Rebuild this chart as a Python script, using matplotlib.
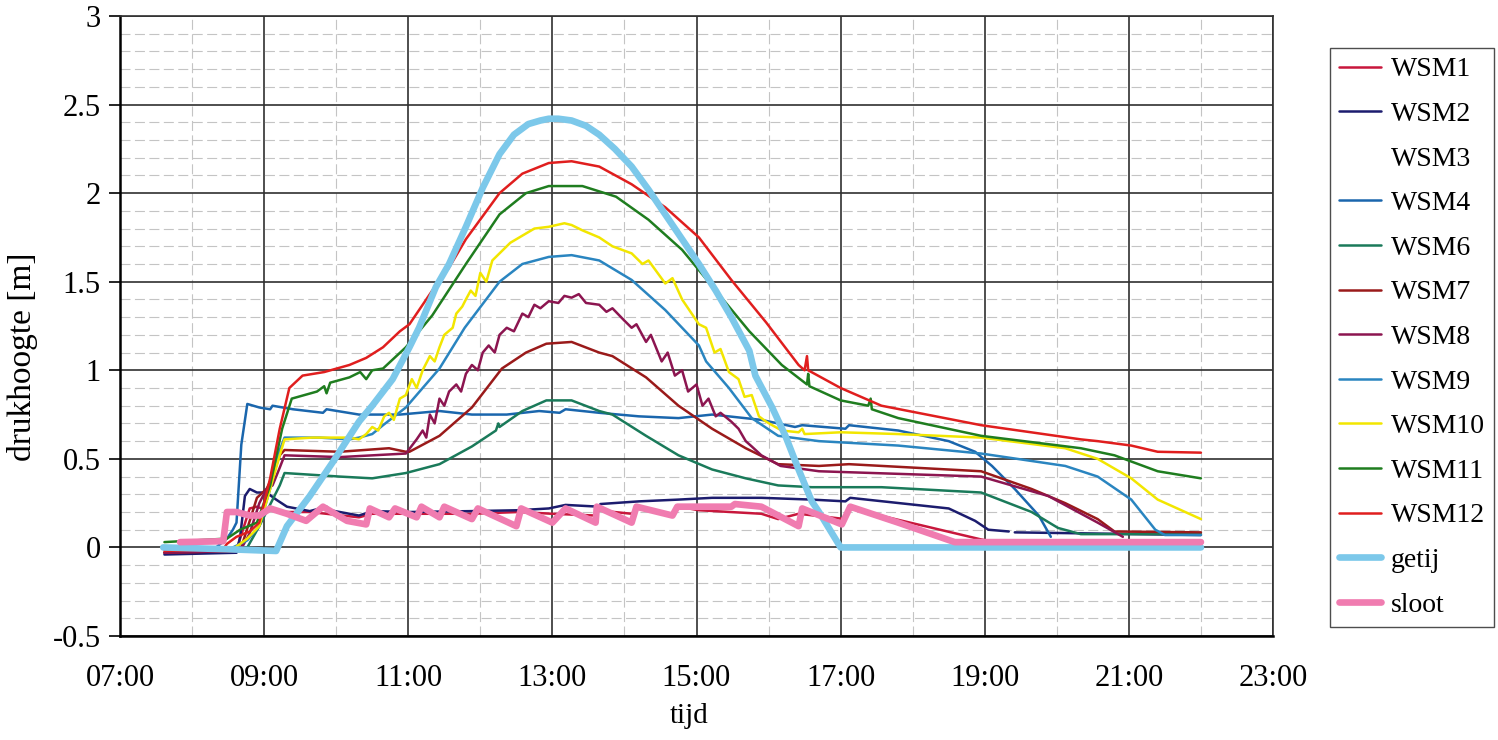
import matplotlib
matplotlib.use("Agg")
import matplotlib.pyplot as plt
import numpy as np

# ---------------- data ----------------
series_names = ["WSM1", "WSM2", "WSM3", "WSM4", "WSM6", "WSM7", "WSM8",
                "WSM9", "WSM10", "WSM11", "WSM12", "getij", "sloot"]

wsm1_t = ["07:37", "08:37", "08:40", "08:48", "08:54", "09:02", "09:19", "09:38", "10:19", "10:30",
          "11:01", "11:53", "12:32", "13:00", "13:36", "13:37", "14:06", "14:10", "14:40", "14:45",
          "15:02", "15:54", "16:08", "16:25", "17:04", "17:08", "18:57", "19:10"]
wsm1_v = [-0.03, -0.02, 0.05, 0.22, 0.23, 0.21, 0.20, 0.20, 0.17, 0.19,
          0.19, 0.19, 0.20, 0.19, 0.18, 0.21, 0.19, 0.22, 0.19, 0.23,
          0.21, 0.19, 0.16, 0.19, 0.16, 0.22, 0.045, 0.03]

wsm2_t = ["07:37", "08:37", "08:40", "08:44", "08:48", "08:54", "09:02", "09:10", "09:19", "09:38",
          "09:52", "09:55", "10:19", "10:30", "11:01", "11:53", "12:32", "12:57", "13:11", "13:39",
          "13:40", "14:12", "14:45", "15:13", "15:54", "16:36", "17:04", "17:08", "18:30", "18:52",
          "19:03", "19:20", "19:22", "19:25", "22:00"]
wsm2_v = [-0.04, -0.03, 0.06, 0.29, 0.33, 0.31, 0.31, 0.27, 0.23, 0.205,
          0.23, 0.21, 0.18, 0.205, 0.20, 0.205, 0.21, 0.22, 0.24, 0.23,
          0.245, 0.26, 0.27, 0.28, 0.28, 0.27, 0.26, 0.28, 0.22, 0.15,
          0.10, 0.09, np.nan, 0.085, 0.07]

wsm3_t = []
wsm3_v = []

wsm4_t = ["07:37", "08:20", "08:29", "08:34", "08:37", "08:41", "08:46", "08:56", "09:05", "09:07",
          "09:24", "09:49", "09:52", "10:19", "10:53", "11:26", "11:53", "12:22", "12:49", "13:06",
          "13:11", "13:39", "14:12", "14:45", "15:13", "15:54", "16:22", "16:28", "17:04", "17:07",
          "17:48", "18:30", "18:52", "19:06", "19:25", "19:45", "19:55"]
wsm4_v = [0.0, 0.0, 0.05, 0.10, 0.14, 0.58, 0.81, 0.79, 0.78, 0.80,
          0.78, 0.76, 0.78, 0.75, 0.75, 0.77, 0.75, 0.75, 0.77, 0.76,
          0.78, 0.76, 0.74, 0.73, 0.75, 0.72, 0.68, 0.69, 0.67, 0.69,
          0.66, 0.60, 0.54, 0.46, 0.33, 0.18, 0.06]

wsm6_t = ["07:37", "08:46", "08:56", "09:13", "09:17", "10:03", "10:30", "10:58", "11:26", "11:53",
          "12:13", "12:15", "12:16", "12:35", "12:55", "13:16", "13:39", "13:50", "14:18", "14:45",
          "15:13", "15:41", "16:08", "16:36", "17:34", "18:57", "19:39", "20:01", "20:20", "22:00"]
wsm6_v = [0.0, 0.0, 0.12, 0.35, 0.42, 0.40, 0.39, 0.42, 0.47, 0.57,
          0.66, 0.70, 0.68, 0.77, 0.83, 0.83, 0.77, 0.75, 0.63, 0.52,
          0.44, 0.39, 0.35, 0.34, 0.34, 0.31, 0.20, 0.11, 0.075, 0.075]

wsm7_t = ["07:37", "08:40", "08:48", "08:54", "09:02", "09:07", "09:13", "09:17", "10:03", "10:44",
          "10:58", "11:01", "11:26", "11:53", "12:18", "12:38", "12:55", "13:16", "13:39", "13:50",
          "14:18", "14:45", "15:13", "15:41", "16:08", "16:42", "17:07", "18:57", "19:39", "20:07",
          "20:34", "20:48", "22:00"]
wsm7_v = [-0.03, -0.02, 0.15, 0.28, 0.33, 0.40, 0.52, 0.55, 0.54, 0.56,
          0.54, 0.54, 0.63, 0.79, 1.01, 1.10, 1.15, 1.16, 1.10, 1.08,
          0.96, 0.80, 0.67, 0.56, 0.47, 0.46, 0.47, 0.43, 0.33, 0.25,
          0.16, 0.09, 0.085]

wsm8_t = ["07:37", "08:40", "08:48", "08:56", "09:02", "09:07", "09:13", "09:17", "10:03", "10:58",
          "11:07", "11:12", "11:15", "11:18", "11:22", "11:26", "11:30", "11:34", "11:40", "11:44",
          "11:48", "11:53", "11:58", "12:02", "12:07", "12:12", "12:16", "12:22", "12:28", "12:35",
          "12:40", "12:45", "12:50", "12:57", "13:05", "13:10", "13:16", "13:22", "13:28", "13:39",
          "13:45", "13:50", "14:00", "14:06", "14:10", "14:18", "14:22", "14:31", "14:36", "14:42",
          "14:48", "14:53", "15:00", "15:05", "15:10", "15:16", "15:20", "15:29", "15:35", "15:41",
          "15:46", "15:54", "16:10", "16:42", "18:57", "19:53", "20:34", "20:55"]
wsm8_v = [-0.03, -0.02, 0.08, 0.25, 0.33, 0.35, 0.45, 0.52, 0.51, 0.53,
          0.61, 0.66, 0.62, 0.75, 0.70, 0.84, 0.80, 0.88, 0.92, 0.88,
          0.98, 1.03, 1.00, 1.10, 1.14, 1.10, 1.20, 1.24, 1.22, 1.32,
          1.30, 1.37, 1.35, 1.39, 1.38, 1.42, 1.41, 1.43, 1.38, 1.37,
          1.33, 1.35, 1.28, 1.24, 1.26, 1.16, 1.20, 1.05, 1.10, 0.97,
          1.00, 0.88, 0.92, 0.80, 0.84, 0.74, 0.76, 0.71, 0.67, 0.60,
          0.57, 0.52, 0.46, 0.43, 0.40, 0.29, 0.14, 0.06]

wsm9_t = ["07:37", "08:34", "08:46", "08:56", "09:05", "09:13", "09:17", "09:46", "10:11", "10:19",
          "10:30", "10:39", "10:58", "11:12", "11:26", "11:47", "12:16", "12:35", "12:57", "13:16",
          "13:39", "14:06", "14:34", "15:02", "15:08", "15:27", "15:46", "16:08", "16:42", "17:48",
          "18:57", "20:07", "20:34", "21:02", "21:22", "21:30", "22:00"]
wsm9_v = [0.0, 0.0, 0.04, 0.12, 0.33, 0.55, 0.62, 0.62, 0.61, 0.62,
          0.64, 0.69, 0.79, 0.90, 1.01, 1.24, 1.50, 1.60, 1.64, 1.65,
          1.62, 1.51, 1.34, 1.14, 1.05, 0.90, 0.73, 0.63, 0.60, 0.575,
          0.53, 0.46, 0.40, 0.27, 0.10, 0.07, 0.07]

wsm10_t = ["07:37", "08:34", "08:46", "08:56", "09:05", "09:13", "09:17", "09:40", "10:11", "10:19",
           "10:25", "10:30", "10:35", "10:40", "10:44", "10:48", "10:53", "10:58", "11:03", "11:07",
           "11:12", "11:18", "11:22", "11:26", "11:30", "11:37", "11:40", "11:45", "11:48", "11:52",
           "11:56", "12:00", "12:05", "12:10", "12:16", "12:25", "12:35", "12:45", "12:57", "13:10",
           "13:16", "13:25", "13:39", "13:50", "14:06", "14:15", "14:20", "14:34", "14:40", "14:48",
           "15:02", "15:08", "15:15", "15:20", "15:27", "15:35", "15:40", "15:46", "15:52", "15:58",
           "16:03", "16:11", "16:25", "16:28", "16:30", "17:00", "17:48", "18:57", "20:07", "20:34",
           "21:02", "21:24", "22:00"]
wsm10_v = [-0.01, -0.01, 0.05, 0.12, 0.33, 0.52, 0.61, 0.62, 0.62, 0.61,
           0.64, 0.68, 0.66, 0.74, 0.76, 0.72, 0.84, 0.86, 0.95, 0.90,
           1.00, 1.08, 1.05, 1.13, 1.20, 1.24, 1.32, 1.36, 1.40, 1.45,
           1.42, 1.55, 1.50, 1.62, 1.66, 1.72, 1.76, 1.80, 1.81, 1.83,
           1.82, 1.79, 1.75, 1.70, 1.66, 1.60, 1.62, 1.49, 1.52, 1.40,
           1.26, 1.24, 1.10, 1.12, 0.99, 0.95, 0.85, 0.86, 0.74, 0.71,
           0.69, 0.66, 0.65, 0.67, 0.64, 0.65, 0.64, 0.62, 0.56, 0.50,
           0.39, 0.27, 0.16]

wsm11_t = ["07:37", "08:29", "08:40", "08:54", "09:05", "09:15", "09:23", "09:44", "09:50", "09:52",
           "09:55", "10:11", "10:20", "10:25", "10:30", "10:39", "10:58", "11:20", "11:48", "12:16",
           "12:38", "12:57", "13:25", "13:53", "14:20", "14:48", "15:16", "15:44", "16:11", "16:32",
           "16:33", "16:34", "17:00", "17:23", "17:25", "17:26", "17:48", "18:57", "20:20", "20:48",
           "21:24", "22:00"]
wsm11_v = [0.03, 0.05, 0.10, 0.14, 0.35, 0.67, 0.84, 0.88, 0.91, 0.87,
           0.93, 0.96, 0.99, 0.95, 1.00, 1.01, 1.13, 1.31, 1.60, 1.88,
           2.00, 2.04, 2.04, 1.98, 1.85, 1.68, 1.45, 1.22, 1.03, 0.92,
           0.98, 0.91, 0.83, 0.80, 0.84, 0.78, 0.73, 0.63, 0.56, 0.52,
           0.43, 0.39]

wsm12_t = ["07:37", "08:26", "08:29", "08:37", "08:48", "08:56", "09:05", "09:13", "09:21", "09:32",
           "09:50", "10:11", "10:25", "10:39", "10:53", "11:01", "11:20", "11:34", "11:48", "12:16",
           "12:35", "12:57", "13:16", "13:39", "14:06", "14:34", "15:02", "15:29", "15:58", "16:25",
           "16:30", "16:32", "16:33", "17:00", "17:34", "18:57", "20:20", "20:34", "21:02", "21:24",
           "22:00"]
wsm12_v = [-0.02, -0.01, 0.02, 0.06, 0.09, 0.14, 0.39, 0.67, 0.90, 0.97,
           0.99, 1.03, 1.07, 1.13, 1.22, 1.26, 1.45, 1.58, 1.74, 2.00,
           2.11, 2.17, 2.18, 2.15, 2.05, 1.92, 1.75, 1.51, 1.27, 1.03,
           1.00, 1.08, 1.00, 0.90, 0.80, 0.69, 0.61, 0.60, 0.575, 0.54,
           0.535]

getij_t = ["07:36", "08:29", "09:10", "09:19", "09:38", "09:57", "10:19", "10:30", "10:47", "11:01",
           "11:09", "11:23", "11:34", "11:48", "12:02", "12:16", "12:28", "12:40", "12:50", "12:57",
           "13:05", "13:16", "13:28", "13:39", "13:52", "14:06", "14:20", "14:34", "14:48", "15:02",
           "15:16", "15:29", "15:44", "15:49", "16:03", "16:14", "16:25", "16:36", "16:42", "17:00",
           "22:00"]
getij_v = [0.0, -0.01, -0.02, 0.12, 0.29, 0.48, 0.71, 0.80, 0.95, 1.13,
           1.24, 1.47, 1.60, 1.81, 2.03, 2.22, 2.33, 2.39, 2.41, 2.42,
           2.42, 2.41, 2.38, 2.33, 2.25, 2.15, 2.02, 1.88, 1.74, 1.60,
           1.45, 1.30, 1.11, 0.97, 0.79, 0.63, 0.44, 0.26, 0.20, 0.0,
           0.0]

sloot_t = ["07:50", "08:26", "08:29", "08:37", "08:48", "08:56", "09:05", "09:19", "09:35", "09:49",
           "10:09", "10:25", "10:28", "10:44", "10:49", "11:07", "11:11", "11:26", "11:30", "11:53",
           "11:58", "12:30", "12:34", "13:00", "13:11", "13:36", "13:37", "14:06", "14:10", "14:40",
           "14:44", "15:29", "15:32", "15:54", "16:25", "16:28", "17:01", "17:08", "17:48", "18:35",
           "22:00"]
sloot_v = [0.03, 0.035, 0.20, 0.20, 0.18, 0.18, 0.22, 0.19, 0.15, 0.23,
           0.15, 0.13, 0.22, 0.17, 0.22, 0.17, 0.23, 0.17, 0.23, 0.16,
           0.22, 0.12, 0.22, 0.14, 0.22, 0.14, 0.23, 0.14, 0.23, 0.18,
           0.23, 0.23, 0.245, 0.23, 0.12, 0.22, 0.13, 0.23, 0.14, 0.03,
           0.03]

x_tick_hours = [7, 9, 11, 13, 15, 17, 19, 21, 23]
x_tick_labels = ["07:00", "09:00", "11:00", "13:00", "15:00", "17:00", "19:00", "21:00", "23:00"]
y_ticks = [-0.5, 0, 0.5, 1, 1.5, 2, 2.5, 3]
y_tick_labels = ["-0.5", "0", "0.5", "1", "1.5", "2", "2.5", "3"]

# ---------------- styling ----------------
colors = {"WSM1": "#c8173c", "WSM2": "#1c1c6e", "WSM3": "none", "WSM4": "#1a66ad",
          "WSM6": "#1a7a5a", "WSM7": "#9a1a1a", "WSM8": "#8c1550", "WSM9": "#2a85c0",
          "WSM10": "#f2e600", "WSM11": "#1f7d1f", "WSM12": "#e01e1e",
          "getij": "#7cc8ea", "sloot": "#f07cb0"}

data = {"WSM1": (wsm1_t, wsm1_v), "WSM2": (wsm2_t, wsm2_v), "WSM3": (wsm3_t, wsm3_v),
        "WSM4": (wsm4_t, wsm4_v), "WSM6": (wsm6_t, wsm6_v), "WSM7": (wsm7_t, wsm7_v),
        "WSM8": (wsm8_t, wsm8_v), "WSM9": (wsm9_t, wsm9_v), "WSM10": (wsm10_t, wsm10_v),
        "WSM11": (wsm11_t, wsm11_v), "WSM12": (wsm12_t, wsm12_v),
        "getij": (getij_t, getij_v), "sloot": (sloot_t, sloot_v)}


def hours(labels):
    out = []
    for s in labels:
        h, m = s.split(":")
        out.append(int(h) + int(m) / 60.0)
    return out


plt.rcParams['font.family'] = ['Liberation Serif', 'DejaVu Serif']

fig = plt.figure(figsize=(14.98, 7.40), dpi=100)
ax = fig.add_axes([120 / 1498, 1 - 636 / 740, (1273 - 120) / 1498, (636 - 16) / 740])

for name in series_names:
    t, v = data[name]
    thick = name in ("getij", "sloot")
    ax.plot(hours(t), v, color=colors[name], lw=4.8 if thick else 1.8,
            label=name, solid_capstyle='round', solid_joinstyle='round')

ax.set_xlim(7, 23)
ax.set_ylim(-0.5, 3)
ax.set_xticks(x_tick_hours)
ax.set_xticklabels(x_tick_labels)
ax.set_xticks(np.arange(8, 23, 2), minor=True)
ax.set_yticks(y_ticks)
ax.set_yticklabels(y_tick_labels)
ax.set_yticks([v / 10 for v in range(-4, 30) if v % 5 != 0], minor=True)

ax.grid(which='major', color='#303030', lw=1.2, ls='-')
ax.grid(which='minor', color='#c4c4c4', lw=0.8, ls=(0, (9, 4)))
ax.set_axisbelow(True)

ax.tick_params(axis='x', which='both', length=0, labelsize=22, pad=20)
ax.tick_params(axis='y', which='major', length=8, width=1.2, direction='out', labelsize=22, pad=6)
ax.tick_params(axis='y', which='minor', length=0)

for side in ['left', 'bottom']:
    ax.spines[side].set_linewidth(1.8)
    ax.spines[side].set_color('black')
for side in ['top', 'right']:
    ax.spines[side].set_linewidth(1.2)
    ax.spines[side].set_color('#303030')

ax.set_ylabel("drukhoogte [m]", fontsize=24)
ax.yaxis.set_label_coords(-0.071, 0.45)
ax.set_xlabel("tijd", fontsize=21)
ax.xaxis.set_label_coords(0.494, -0.108)

leg = fig.legend(loc='upper left', bbox_to_anchor=(1330 / 1498, 1 - 48 / 740),
                 fontsize=20, frameon=True, fancybox=False, shadow=False,
                 handlelength=1.5, handletextpad=0.38, labelspacing=0.69,
                 borderpad=0.32, borderaxespad=0)
leg.get_frame().set_edgecolor('#202020')
leg.get_frame().set_linewidth(1.0)
for line in leg.get_lines():
    if line.get_label() in ("getij", "sloot"):
        line.set_linewidth(4.8)
    else:
        line.set_linewidth(1.8)

fig.savefig("out.png", dpi=100)
